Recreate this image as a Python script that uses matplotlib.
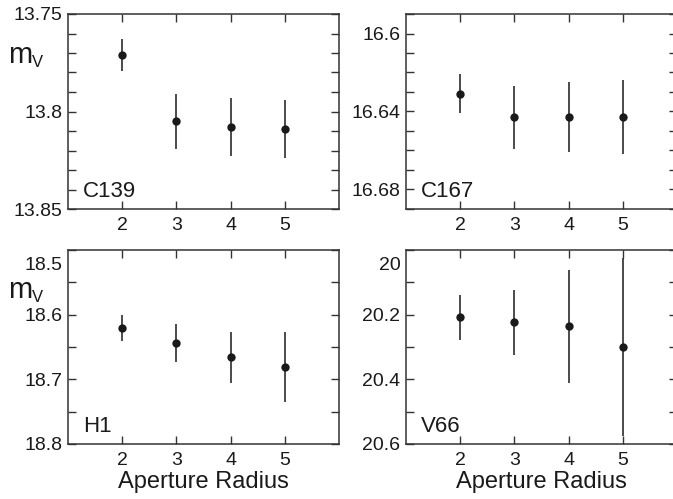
import matplotlib
matplotlib.use("Agg")
import matplotlib.pyplot as plt
from matplotlib.ticker import FixedLocator, MultipleLocator, FuncFormatter

plt.rcParams['font.family'] = ['Liberation Sans', 'DejaVu Sans']

# ---- data ----
radius = [2, 3, 4, 5]
x_ticks = [2, 3, 4, 5]

c139_mag = [13.771, 13.805, 13.808, 13.809]
c139_err = [0.008, 0.014, 0.015, 0.015]
c167_mag = [16.631, 16.643, 16.643, 16.643]
c167_err = [0.010, 0.016, 0.018, 0.019]
h1_mag = [18.621, 18.644, 18.666, 18.681]
h1_err = [0.020, 0.029, 0.039, 0.054]
v66_mag = [20.208, 20.224, 20.236, 20.301]
v66_err = [0.070, 0.100, 0.175, 0.275]

names = ["C139", "C167", "H1", "V66"]
ylims = [(13.85, 13.75), (16.69, 16.59), (18.8, 18.5), (20.6, 20.0)]
ymajor = [[13.75, 13.8, 13.85], [16.6, 16.64, 16.68], [18.5, 18.6, 18.7, 18.8], [20.0, 20.2, 20.4, 20.6]]
ylabels = [["13.75", "13.8", "13.85"], ["16.6", "16.64", "16.68"],
           ["18.5", "18.6", "18.7", "18.8"], ["20", "20.2", "20.4", "20.6"]]
yminor_step = [0.01, 0.01, 0.05, 0.1]
mags = [c139_mag, c167_mag, h1_mag, v66_mag]
errs = [c139_err, c167_err, h1_err, v66_err]

W, H = 673, 499
fig = plt.figure(figsize=(W / 100, H / 100), dpi=100)

def rect(l, t, r, b):
    return [l / W, 1 - b / H, (r - l) / W, (b - t) / H]

rects = [rect(68, 14, 339, 209), rect(406, 14, 677, 209),
         rect(68, 250, 339, 444), rect(406, 250, 677, 444)]

ink = "#1a1a1a"
for i in range(4):
    ax = fig.add_axes(rects[i])
    ax.errorbar(radius, mags[i], yerr=errs[i], fmt='o', color=ink, ms=6,
                elinewidth=1.1, capsize=0, mew=0)
    ax.set_xlim(1, 6)
    ax.set_ylim(*ylims[i])
    ax.xaxis.set_major_locator(FixedLocator(x_ticks))
    ax.yaxis.set_major_locator(FixedLocator(ymajor[i]))
    ax.yaxis.set_minor_locator(MultipleLocator(yminor_step[i]))
    labs = list(ylabels[i])
    if i >= 2:
        labs[0] = ""
    ax.set_yticklabels(labs)
    ax.tick_params(which='both', direction='in', top=True, right=True,
                   length=6, width=1, color="#333333", labelsize=14, labelcolor=ink)
    ax.tick_params(axis='x', pad=6)
    ax.tick_params(axis='y', pad=4)
    for s in ax.spines.values():
        s.set_linewidth(1.1)
        s.set_color("#333333")
    ax.text(15 / 271, 12 / 195, names[i], transform=ax.transAxes,
            fontsize=16, color=ink, ha='left', va='baseline')
    if i >= 2:
        ax.annotate(ylabels[i][0], xy=(0, ylims[i][1]), xycoords=('axes fraction', 'data'),
                    xytext=(-4, -11), textcoords='offset points', ha='right',
                    va='center', fontsize=14, color=ink)
        ax.set_xlabel("Aperture Radius", fontsize=17, color=ink, labelpad=1)

# m_V labels
for base in (63, 298):
    fig.text(8 / W, 1 - base / H, "m", fontsize=21, color=ink, ha='left', va='baseline')
    fig.text(32 / W, 1 - (base + 4) / H, "V", fontsize=12, color=ink, ha='left', va='baseline')

fig.savefig("out.png", dpi=100)
